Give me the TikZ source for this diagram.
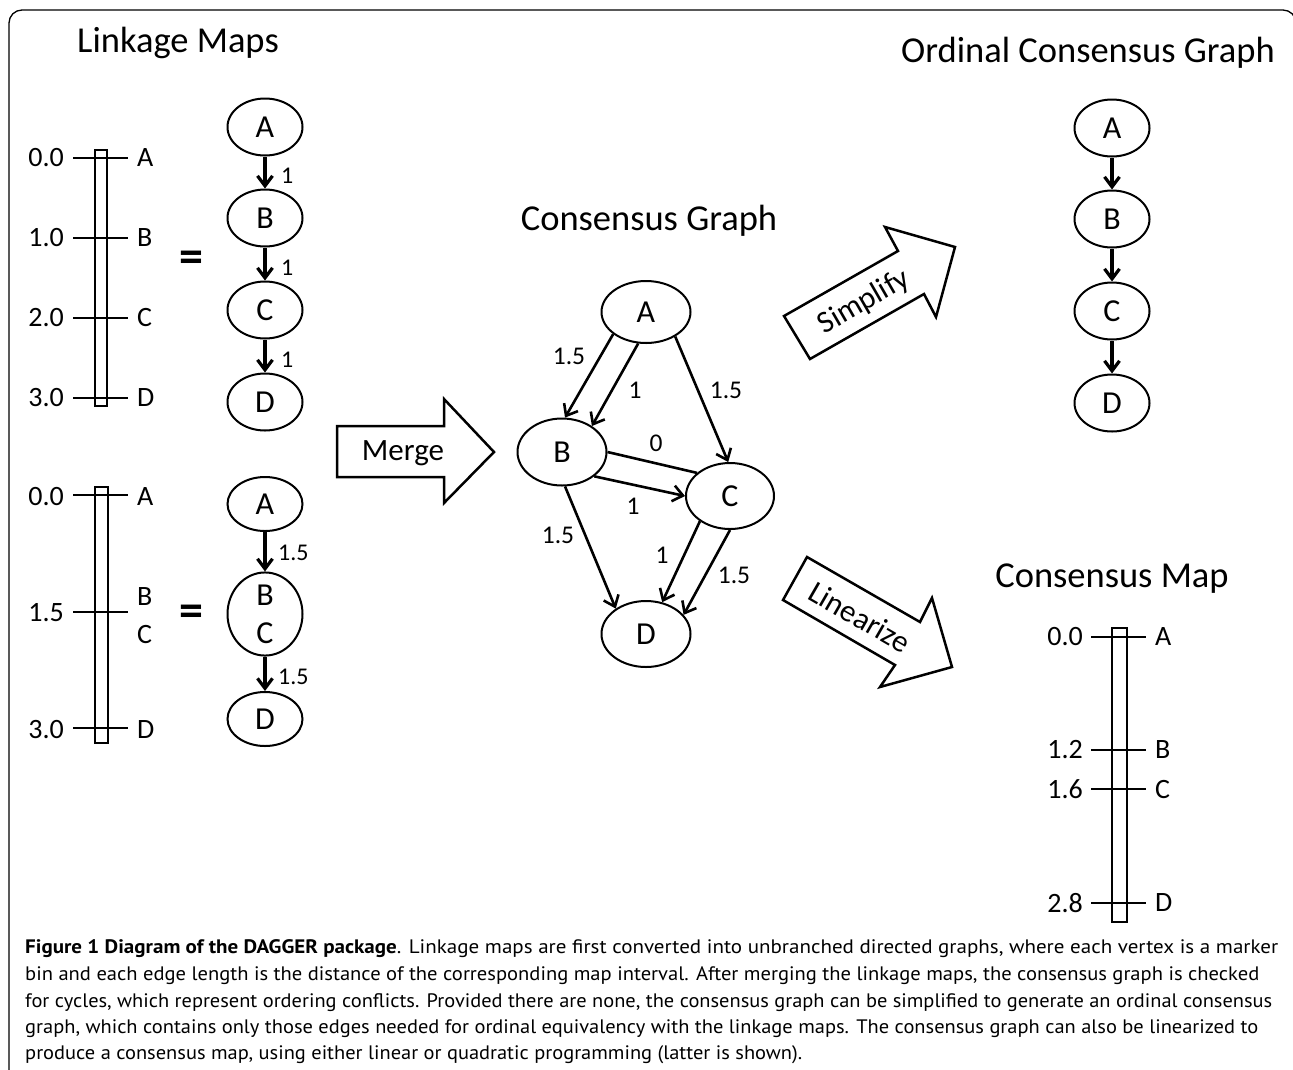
\documentclass[tikz,border=0pt]{standalone}
\usepackage{fontspec}
\setmainfont{Carlito}
\newfontfamily\capfont{PT Sans}
\usetikzlibrary{shapes.geometric,arrows.meta}
\begin{document}
\begin{tikzpicture}[x=1pt,y=-1pt,
  ov/.style={ellipse,draw,line width=2pt,inner sep=0pt,minimum width=75pt,minimum height=57pt,font=\fontsize{32}{32}\selectfont},
  cv/.style={ov,minimum width=89pt,minimum height=65pt},
  arr/.style={line width=3.2pt,-{Straight Barb[length=10pt,width=15pt]}},
  carr/.style={line width=2.6pt,-{Straight Barb[length=10pt,width=16pt]}},
  zline/.style={line width=2.6pt},
  elab/.style={font=\fontsize{24}{24}\selectfont,inner sep=0pt},
  clab/.style={font=\fontsize{25.5}{25.5}\selectfont,inner sep=0pt},
  tlab/.style={font=\fontsize{28}{28}\selectfont,inner sep=0pt},
  ttl/.style={font=\fontsize{36.5}{36.5}\selectfont,inner sep=0pt,anchor=base},
  bar/.style={draw,line width=2pt},
  tk/.style={line width=2pt},
  blk/.style={draw,line width=2.5pt,line join=miter},
  blab/.style={font=\fontsize{31}{31}\selectfont,inner sep=0pt},
  eqs/.style={font=\bfseries\fontsize{48}{48}\selectfont,inner sep=0pt},
  captxt/.style={anchor=base west,inner sep=0pt,font=\capfont\fontsize{19.5}{19.5}\selectfont}
]
\useasboundingbox (0,0) rectangle (1293,1069);
\begin{scope}
\clip (0,0) rectangle (1293,1069);
\draw[line width=1.3pt,rounded corners=13pt] (9,1090) -- (9,10) -- (1296,10) -- (1296,1090);
\end{scope}

% titles
\node[ttl] (t1) at (178,52) {Linkage Maps};
\node[ttl] (t2) at (1088,62) {Ordinal Consensus Graph};
\node[ttl] (t3) at (649,230) {Consensus Graph};
\node[ttl] (t4) at (1112,587) {Consensus Map};

% ---------- linkage map 1
\draw[bar] (95,150) rectangle (107,406);
\foreach \y in {158,238,318,398} \draw[tk] (73,\y) -- (128,\y);
\node[tlab,anchor=east] (a1) at (64,158) {0.0};
\node[tlab,anchor=east] (a2) at (64,238) {1.0};
\node[tlab,anchor=east] (a3) at (64,318) {2.0};
\node[tlab,anchor=east] (a4) at (64,398) {3.0};
\node[tlab,anchor=west] (b1) at (137,158) {A};
\node[tlab,anchor=west] (b2) at (137,238) {B};
\node[tlab,anchor=west] (b3) at (137,318) {C};
\node[tlab,anchor=west] (b4) at (137,398) {D};
\node[eqs] (eq1) at (191,262) {=};

\node[ov] (mA) at (265,127) {A};
\node[ov] (mB) at (265,218) {B};
\node[ov] (mC) at (265,310) {C};
\node[ov] (mD) at (265,402) {D};
\draw[arr] (mA) -- (mB);
\draw[arr] (mB) -- (mC);
\draw[arr] (mC) -- (mD);
\node[elab,anchor=west] (e1) at (281,176) {1};
\node[elab,anchor=west] (e2) at (281,268) {1};
\node[elab,anchor=west] (e3) at (281,360) {1};

% ---------- linkage map 2
\draw[bar] (95,487) rectangle (108,743);
\foreach \y in {495,612,728} \draw[tk] (73,\y) -- (128,\y);
\node[tlab,anchor=east] (c1) at (64,497) {0.0};
\node[tlab,anchor=east] (c2) at (64,613) {1.5};
\node[tlab,anchor=east] (c3) at (64,730) {3.0};
\node[tlab,anchor=west] (d1) at (137,497) {A};
\node[tlab,anchor=west] (d2) at (137,597) {B};
\node[tlab,anchor=west] (d3) at (137,634) {C};
\node[tlab,anchor=west] (d4) at (137,730) {D};
\node[eqs] (eq2) at (191,616) {=};

\node[ov,minimum height=54pt] (nA) at (265,504) {A};
\node[ov,minimum height=82pt,align=center,font=\fontsize{32}{38}\selectfont] (nBC) at (265,614) {B\\C};
\node[ov,minimum height=54pt] (nD) at (265,719) {D};
\draw[arr] (nA) -- (nBC);
\draw[arr] (nBC) -- (nD);
\node[elab,anchor=west] (f1) at (278,553) {1.5};
\node[elab,anchor=west] (f2) at (278,677) {1.5};

% ---------- merge arrow
\draw[blk] (337,426) -- (444,426) -- (444,399) -- (494,452) -- (444,503) -- (444,477) -- (337,477) -- cycle;
\node[blab] (merge) at (403,453) {Merge};

% ---------- consensus graph
\node[cv,minimum height=62pt] (gA) at (646,312) {A};
\node[cv,minimum height=67pt] (gB) at (562,452) {B};
\node[cv,minimum width=88pt,minimum height=66pt] (gC) at (730,496) {C};
\node[cv,minimum height=66pt] (gD) at (646,634) {D};
\draw[carr] (gA.214) -- (gB.85);
\draw[carr] (gA.256) -- (gB.41);
\draw[carr] (gA.320) -- (gC.93);
\draw[zline] (gB.0) -- (gC.145);
\draw[carr] (gB.323) -- (gC.180);
\draw[carr] (gB.275) -- (gD.140);
\draw[carr] (gC.220) -- (gD.63);
\draw[carr] (gC.270) -- (gD.27);
\node[clab] (g1) at (569,356) {1.5};
\node[clab] (g2) at (635,390) {1};
\node[clab] (g3) at (726,390) {1.5};
\node[clab] (g4) at (656,443) {0};
\node[clab] (g5) at (633,506) {1};
\node[clab] (g6) at (558,535) {1.5};
\node[clab] (g7) at (662,555) {1};
\node[clab] (g8) at (734,575) {1.5};

% ---------- simplify arrow
\draw[blk] (784,316) -- (898,251) -- (885,227) -- (955,247) -- (936,317) -- (924,294) -- (810,359) -- cycle;
\node[blab,rotate=30] (simp) at (864,302) {Simplify};

% ---------- linearize arrow
\draw[blk] (807,557) -- (920,622) -- (932,598) -- (952,667) -- (880,687) -- (895,665) -- (783,600) -- cycle;
\node[blab,rotate=-30] (lin) at (860,617) {Linearize};

% ---------- ordinal consensus graph
\node[ov] (oA) at (1112,128) {A};
\node[ov] (oB) at (1112,219) {B};
\node[ov] (oC) at (1112,311) {C};
\node[ov] (oD) at (1112,403) {D};
\draw[arr] (oA) -- (oB);
\draw[arr] (oB) -- (oC);
\draw[arr] (oC) -- (oD);

% ---------- consensus map
\draw[bar] (1112,628) rectangle (1127,922);
\foreach \y in {637,750,789,903} \draw[tk] (1091,\y) -- (1146,\y);
\node[tlab,anchor=east] (h1) at (1083,637) {0.0};
\node[tlab,anchor=east] (h2) at (1083,750) {1.2};
\node[tlab,anchor=east] (h3) at (1083,789) {1.6};
\node[tlab,anchor=east] (h4) at (1083,903) {2.8};
\node[tlab,anchor=west] (k1) at (1155,637) {A};
\node[tlab,anchor=west] (k2) at (1155,750) {B};
\node[tlab,anchor=west] (k3) at (1155,789) {C};
\node[tlab,anchor=west] (k4) at (1155,903) {D};

% ---------- caption
\node[captxt] (cap1) at (25,953) {\resizebox{1253pt}{\height}{\textbf{Figure 1 Diagram of the DAGGER package}. Linkage maps are first converted into unbranched directed graphs, where each vertex is a marker}};
\node[captxt] (cap2) at (25,980) {\resizebox{1234pt}{\height}{bin and each edge length is the distance of the corresponding map interval. After merging the linkage maps, the consensus graph is checked}};
\node[captxt] (cap3) at (25,1007) {\resizebox{1247pt}{\height}{for cycles, which represent ordering conflicts. Provided there are none, the consensus graph can be simplified to generate an ordinal consensus}};
\node[captxt] (cap4) at (25,1033) {\resizebox{1233pt}{\height}{graph, which contains only those edges needed for ordinal equivalency with the linkage maps. The consensus graph can also be linearized to}};
\node[captxt] (cap5) at (25,1059) {\resizebox{777pt}{\height}{produce a consensus map, using either linear or quadratic programming (latter is shown).}};
\end{tikzpicture}
\end{document}
